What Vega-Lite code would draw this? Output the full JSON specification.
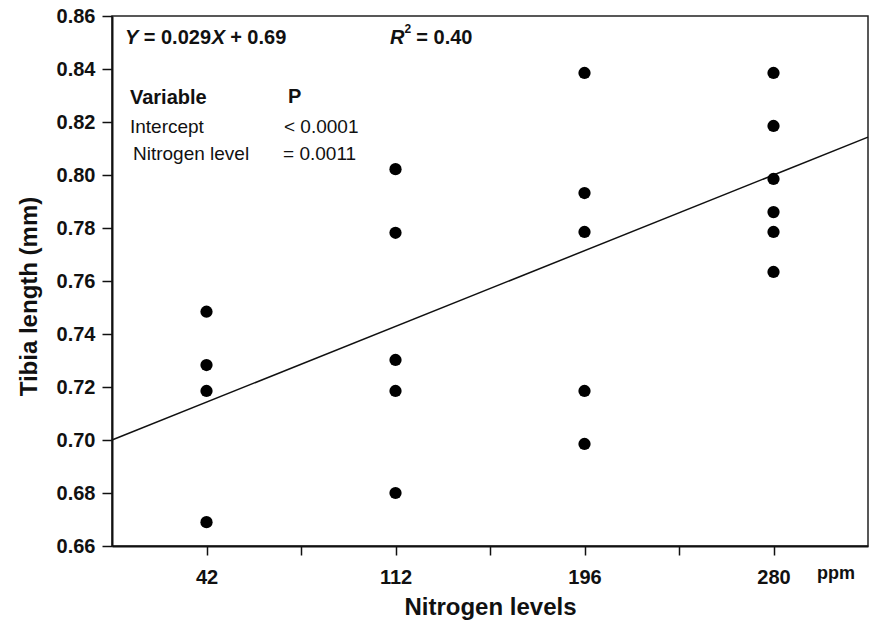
{
  "$schema": "https://vega.github.io/schema/vega-lite/v6.json",
  "width": 756,
  "height": 530,
  "autosize": "none",
  "padding": {"left": 112, "top": 16, "right": 2, "bottom": 80},
  "background": "white",
  "config": {
    "font": "Liberation Sans",
    "view": {"stroke": "#222", "strokeWidth": 1.5},
    "axis": {"grid": false, "domainColor": "#111", "domainWidth": 2, "tickColor": "#111", "tickWidth": 1.5, "labelColor": "#111", "titleColor": "#111", "labelFont": "Liberation Sans", "titleFont": "Liberation Sans"}
  },
  "layer": [
    {
      "data": {"values": [{"pos": 0.5, "fit": 0.700}, {"pos": 4.5, "fit": 0.8143}]},
      "mark": {"type": "line", "color": "#111", "strokeWidth": 1.5},
      "encoding": {
        "x": {"field": "pos", "type": "quantitative", "scale": {"domain": [0.5, 4.5], "nice": false, "zero": false},
          "axis": {"values": [1, 1.5, 2, 2.5, 3, 3.5, 4], "labelExpr": "datum.value == 1 ? '42' : datum.value == 2 ? '112' : datum.value == 3 ? '196' : datum.value == 4 ? '280' : ''",
            "title": "Nitrogen levels", "titleFontSize": 24, "titleFontWeight": "bold", "titlePadding": 8,
            "labelFontSize": 20, "labelFontWeight": "bold", "tickSize": 9, "labelPadding": 12, "labelFlush": false}},
        "y": {"field": "fit", "type": "quantitative", "scale": {"domain": [0.66, 0.86], "nice": false, "zero": false},
          "axis": {"values": [0.66, 0.68, 0.70, 0.72, 0.74, 0.76, 0.78, 0.80, 0.82, 0.84, 0.86], "format": ".2f",
            "title": "Tibia length (mm)", "titleFontSize": 24, "titleFontWeight": "bold",
            "labelFontSize": 20, "labelFontWeight": "bold", "tickSize": 10, "labelPadding": 7,
            "titleX": -83, "titleY": 280, "titleAlign": "center", "titleBaseline": "middle", "titleAngle": -90}}
      }
    },
    {
      "data": {"values": [
        {"pos": 1, "ppm": 42, "tibia": 0.7484},
        {"pos": 1, "ppm": 42, "tibia": 0.7283},
        {"pos": 1, "ppm": 42, "tibia": 0.7185},
        {"pos": 1, "ppm": 42, "tibia": 0.6690},
        {"pos": 2, "ppm": 112, "tibia": 0.8022},
        {"pos": 2, "ppm": 112, "tibia": 0.7782},
        {"pos": 2, "ppm": 112, "tibia": 0.7302},
        {"pos": 2, "ppm": 112, "tibia": 0.7185},
        {"pos": 2, "ppm": 112, "tibia": 0.6800},
        {"pos": 3, "ppm": 196, "tibia": 0.8385},
        {"pos": 3, "ppm": 196, "tibia": 0.7932},
        {"pos": 3, "ppm": 196, "tibia": 0.7785},
        {"pos": 3, "ppm": 196, "tibia": 0.7185},
        {"pos": 3, "ppm": 196, "tibia": 0.6985},
        {"pos": 4, "ppm": 280, "tibia": 0.8385},
        {"pos": 4, "ppm": 280, "tibia": 0.8185},
        {"pos": 4, "ppm": 280, "tibia": 0.7985},
        {"pos": 4, "ppm": 280, "tibia": 0.7860},
        {"pos": 4, "ppm": 280, "tibia": 0.7785},
        {"pos": 4, "ppm": 280, "tibia": 0.7634}
      ]},
      "mark": {"type": "circle", "color": "#000", "opacity": 1, "size": 150},
      "encoding": {
        "x": {"field": "pos", "type": "quantitative"},
        "y": {"field": "tibia", "type": "quantitative"}
      }
    },
    {
      "data": {"values": [{}]},
      "mark": {"type": "text", "align": "left", "baseline": "middle", "fontSize": 20, "fontWeight": "bold", "fontStyle": "italic", "text": "Y", "color": "#111"},
      "encoding": {"x": {"datum": 0.5688, "type": "quantitative"}, "y": {"datum": 0.8517, "type": "quantitative"}}
    },
    {
      "data": {"values": [{}]},
      "mark": {"type": "text", "align": "left", "baseline": "middle", "fontSize": 20, "fontWeight": "bold", "text": "= 0.029", "color": "#111"},
      "encoding": {"x": {"datum": 0.668, "type": "quantitative"}, "y": {"datum": 0.8517, "type": "quantitative"}}
    },
    {
      "data": {"values": [{}]},
      "mark": {"type": "text", "align": "left", "baseline": "middle", "fontSize": 20, "fontWeight": "bold", "fontStyle": "italic", "text": "X", "color": "#111"},
      "encoding": {"x": {"datum": 1.028, "type": "quantitative"}, "y": {"datum": 0.8517, "type": "quantitative"}}
    },
    {
      "data": {"values": [{}]},
      "mark": {"type": "text", "align": "left", "baseline": "middle", "fontSize": 20, "fontWeight": "bold", "text": "+ 0.69", "color": "#111"},
      "encoding": {"x": {"datum": 1.125, "type": "quantitative"}, "y": {"datum": 0.8517, "type": "quantitative"}}
    },
    {
      "data": {"values": [{}]},
      "mark": {"type": "text", "align": "left", "baseline": "middle", "fontSize": 20, "fontWeight": "bold", "fontStyle": "italic", "text": "R", "color": "#111"},
      "encoding": {"x": {"datum": 1.971, "type": "quantitative"}, "y": {"datum": 0.8517, "type": "quantitative"}}
    },
    {
      "data": {"values": [{}]},
      "mark": {"type": "text", "align": "left", "baseline": "middle", "fontSize": 12, "fontWeight": "bold", "text": "2", "color": "#111"},
      "encoding": {"x": {"datum": 2.048, "type": "quantitative"}, "y": {"datum": 0.8552, "type": "quantitative"}}
    },
    {
      "data": {"values": [{}]},
      "mark": {"type": "text", "align": "left", "baseline": "middle", "fontSize": 20, "fontWeight": "bold", "text": "= 0.40", "color": "#111"},
      "encoding": {"x": {"datum": 2.11, "type": "quantitative"}, "y": {"datum": 0.8517, "type": "quantitative"}}
    },
    {
      "data": {"values": [{}]},
      "mark": {"type": "text", "align": "left", "baseline": "middle", "fontSize": 20, "fontWeight": "bold", "text": "Variable", "color": "#111"},
      "encoding": {"x": {"datum": 0.595, "type": "quantitative"}, "y": {"datum": 0.8291, "type": "quantitative"}}
    },
    {
      "data": {"values": [{}]},
      "mark": {"type": "text", "align": "left", "baseline": "middle", "fontSize": 20, "fontWeight": "bold", "text": "P", "color": "#111"},
      "encoding": {"x": {"datum": 1.431, "type": "quantitative"}, "y": {"datum": 0.8296, "type": "quantitative"}}
    },
    {
      "data": {"values": [{}]},
      "mark": {"type": "text", "align": "left", "baseline": "middle", "fontSize": 19, "text": "Intercept", "color": "#111"},
      "encoding": {"x": {"datum": 0.595, "type": "quantitative"}, "y": {"datum": 0.8181, "type": "quantitative"}}
    },
    {
      "data": {"values": [{}]},
      "mark": {"type": "text", "align": "left", "baseline": "middle", "fontSize": 19, "text": "< 0.0001", "color": "#111"},
      "encoding": {"x": {"datum": 1.41, "type": "quantitative"}, "y": {"datum": 0.8181, "type": "quantitative"}}
    },
    {
      "data": {"values": [{}]},
      "mark": {"type": "text", "align": "left", "baseline": "middle", "fontSize": 19, "text": "Nitrogen level", "color": "#111"},
      "encoding": {"x": {"datum": 0.611, "type": "quantitative"}, "y": {"datum": 0.8079, "type": "quantitative"}}
    },
    {
      "data": {"values": [{}]},
      "mark": {"type": "text", "align": "left", "baseline": "middle", "fontSize": 19, "text": "= 0.0011", "color": "#111"},
      "encoding": {"x": {"datum": 1.405, "type": "quantitative"}, "y": {"datum": 0.8079, "type": "quantitative"}}
    },
    {
      "data": {"values": [{}]},
      "mark": {"type": "text", "align": "left", "baseline": "alphabetic", "fontSize": 18, "fontWeight": "bold", "text": "ppm", "color": "#111"},
      "encoding": {"x": {"datum": 4.23, "type": "quantitative"}, "y": {"datum": 0.6475, "type": "quantitative"}}
    }
  ]
}
